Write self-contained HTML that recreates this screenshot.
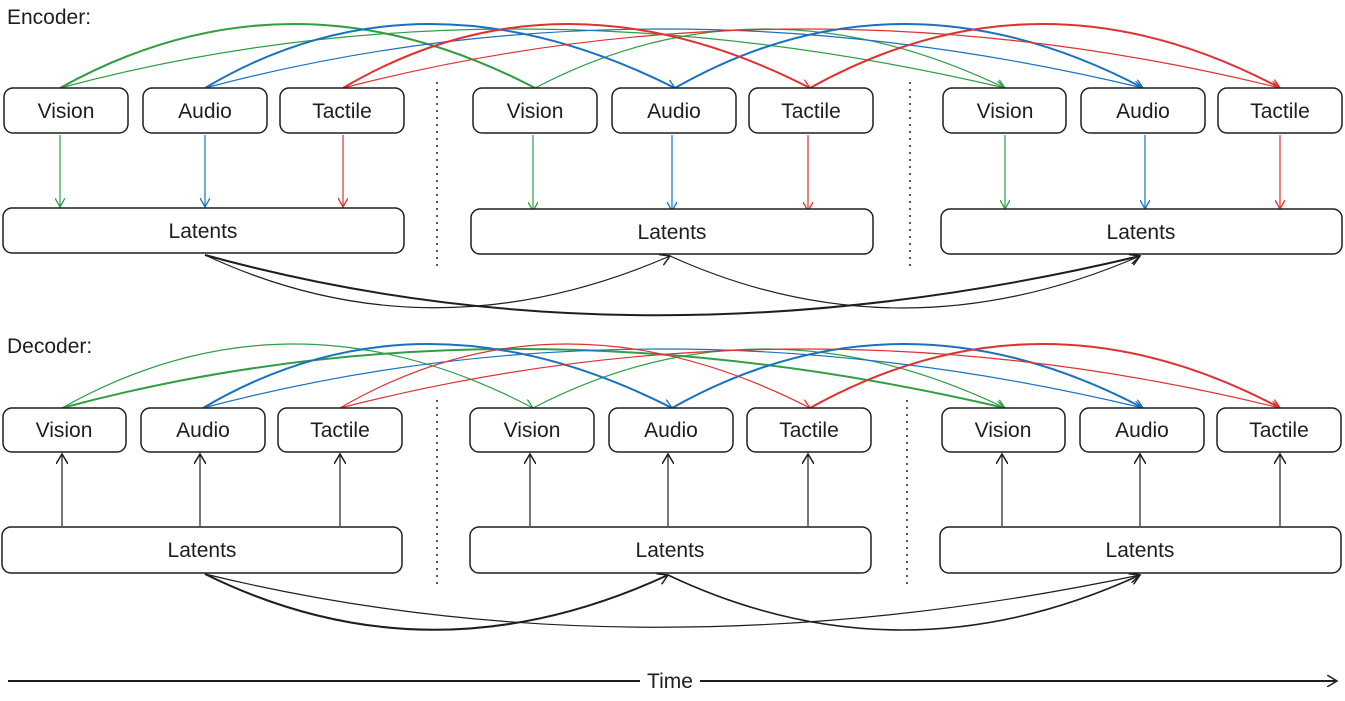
<!DOCTYPE html>
<html><head><meta charset="utf-8"><style>
html,body{margin:0;padding:0;background:#fff;}
svg text{font-family:"Liberation Sans",sans-serif;font-size:21px;fill:#1e1e1e;}
</style></head><body>
<svg width="1345" height="696" viewBox="0 0 1345 696" xmlns="http://www.w3.org/2000/svg">
<defs>
<marker id="ag" markerWidth="10" markerHeight="10" refX="9" refY="5" orient="auto" markerUnits="userSpaceOnUse"><path d="M0,0 L9,5 L0,10" fill="none" stroke="#2f9e44" stroke-width="1.3"/></marker>
<marker id="ab" markerWidth="10" markerHeight="10" refX="9" refY="5" orient="auto" markerUnits="userSpaceOnUse"><path d="M0,0 L9,5 L0,10" fill="none" stroke="#1971c2" stroke-width="1.3"/></marker>
<marker id="ar" markerWidth="10" markerHeight="10" refX="9" refY="5" orient="auto" markerUnits="userSpaceOnUse"><path d="M0,0 L9,5 L0,10" fill="none" stroke="#e03131" stroke-width="1.3"/></marker>
<marker id="ak" markerWidth="12" markerHeight="12" refX="10" refY="6" orient="auto" markerUnits="userSpaceOnUse"><path d="M0,0 L10,6 L0,12" fill="none" stroke="#1e1e1e" stroke-width="1.5"/></marker>
</defs>
<text x="7" y="24">Encoder:</text>
<text x="7" y="353">Decoder:</text>
<g fill="none" stroke-width="1.2">
<path d="M60,88 Q290,-40 535,88" stroke="#2f9e44" stroke-width="2"/>
<path d="M60,88 Q500,-30 1005,88" stroke="#2f9e44" marker-end="url(#ag)"/>
<path d="M535,88 Q760,-30 1005,88" stroke="#2f9e44" marker-end="url(#ag)"/>
<path d="M205,88 Q420,-40 675,88" stroke="#1971c2" stroke-width="2" marker-end="url(#ab)"/>
<path d="M205,88 Q650,-30 1143,88" stroke="#1971c2" marker-end="url(#ab)"/>
<path d="M675,88 Q900,-40 1143,88" stroke="#1971c2" stroke-width="2" marker-end="url(#ab)"/>
<path d="M343,88 Q560,-40 810,88" stroke="#e03131" stroke-width="2" marker-end="url(#ar)"/>
<path d="M343,88 Q800,-30 1280,88" stroke="#e03131" marker-end="url(#ar)"/>
<path d="M810,88 Q1040,-40 1280,88" stroke="#e03131" stroke-width="2" marker-end="url(#ar)"/>
<path d="M62,408 Q290,280 533,408" stroke="#2f9e44" marker-end="url(#ag)"/>
<path d="M62,408 Q500,290 1005,408" stroke="#2f9e44" stroke-width="2" marker-end="url(#ag)"/>
<path d="M533,408 Q760,290 1005,408" stroke="#2f9e44" marker-end="url(#ag)"/>
<path d="M203,408 Q420,280 672,408" stroke="#1971c2" stroke-width="2" marker-end="url(#ab)"/>
<path d="M203,408 Q650,290 1143,408" stroke="#1971c2" marker-end="url(#ab)"/>
<path d="M672,408 Q900,280 1143,408" stroke="#1971c2" stroke-width="2" marker-end="url(#ab)"/>
<path d="M340,408 Q560,280 810,408" stroke="#e03131" marker-end="url(#ar)"/>
<path d="M340,408 Q800,290 1280,408" stroke="#e03131" marker-end="url(#ar)"/>
<path d="M810,408 Q1040,280 1280,408" stroke="#e03131" stroke-width="2" marker-end="url(#ar)"/>
<path d="M60,135 L60,207" stroke="#2f9e44" marker-end="url(#ag)"/>
<path d="M205,135 L205,207" stroke="#1971c2" marker-end="url(#ab)"/>
<path d="M343,135 L343,207" stroke="#e03131" marker-end="url(#ar)"/>
<path d="M533,135 L533,211" stroke="#2f9e44" marker-end="url(#ag)"/>
<path d="M672,135 L672,211" stroke="#1971c2" marker-end="url(#ab)"/>
<path d="M808,135 L808,211" stroke="#e03131" marker-end="url(#ar)"/>
<path d="M1005,135 L1005,209" stroke="#2f9e44" marker-end="url(#ag)"/>
<path d="M1145,135 L1145,209" stroke="#1971c2" marker-end="url(#ab)"/>
<path d="M1280,135 L1280,209" stroke="#e03131" marker-end="url(#ar)"/>
<g stroke="#1e1e1e">
<path d="M62,526 L62,454" marker-end="url(#ak)"/>
<path d="M200,526 L200,454" marker-end="url(#ak)"/>
<path d="M340,526 L340,454" marker-end="url(#ak)"/>
<path d="M530,526 L530,454" marker-end="url(#ak)"/>
<path d="M668,526 L668,454" marker-end="url(#ak)"/>
<path d="M808,526 L808,454" marker-end="url(#ak)"/>
<path d="M1002,526 L1002,454" marker-end="url(#ak)"/>
<path d="M1140,526 L1140,454" marker-end="url(#ak)"/>
<path d="M1280,526 L1280,454" marker-end="url(#ak)"/>
<path d="M205,255 Q430,360 670,256" stroke-width="1.2" marker-end="url(#ak)"/>
<path d="M205,255 Q640,375 1140,256" stroke-width="2" marker-end="url(#ak)"/>
<path d="M670,256 Q900,360 1140,256" stroke-width="1.2" marker-end="url(#ak)"/>
<path d="M205,574 Q430,685 668,575" stroke-width="2" marker-end="url(#ak)"/>
<path d="M205,574 Q640,680 1140,575" stroke-width="1.2" marker-end="url(#ak)"/>
<path d="M668,575 Q900,685 1140,575" stroke-width="1.6" marker-end="url(#ak)"/>
<path d="M437,82 L437,268 M910,82 L910,268 M437,400 L437,588 M907,400 L907,588" stroke-dasharray="2,5" stroke-width="1.5"/>
<path d="M8,681 L1337,681" stroke-width="2" marker-end="url(#ak)"/>
</g>
</g>
<g fill="#fff" stroke="#1e1e1e" stroke-width="1.5">
<rect x="4" y="88" width="124" height="45" rx="9"/><rect x="143" y="88" width="124" height="45" rx="9"/><rect x="280" y="88" width="124" height="45" rx="9"/>
<rect x="473" y="88" width="124" height="45" rx="9"/><rect x="612" y="88" width="124" height="45" rx="9"/><rect x="749" y="88" width="124" height="45" rx="9"/>
<rect x="943" y="88" width="123" height="45" rx="9"/><rect x="1081" y="88" width="124" height="45" rx="9"/><rect x="1218" y="88" width="124" height="45" rx="9"/>
<rect x="3" y="208" width="401" height="45" rx="9"/><rect x="471" y="209" width="402" height="45" rx="9"/><rect x="941" y="209" width="401" height="45" rx="9"/>
<rect x="3" y="408" width="123" height="44" rx="9"/><rect x="141" y="408" width="124" height="44" rx="9"/><rect x="278" y="408" width="124" height="44" rx="9"/>
<rect x="470" y="408" width="124" height="44" rx="9"/><rect x="609" y="408" width="124" height="44" rx="9"/><rect x="747" y="408" width="124" height="44" rx="9"/>
<rect x="942" y="408" width="123" height="44" rx="9"/><rect x="1080" y="408" width="124" height="44" rx="9"/><rect x="1217" y="408" width="124" height="44" rx="9"/>
<rect x="2" y="527" width="400" height="46" rx="9"/><rect x="470" y="527" width="401" height="46" rx="9"/><rect x="940" y="527" width="401" height="46" rx="9"/>
</g>
<g text-anchor="middle">
<text x="66" y="118">Vision</text><text x="205" y="118">Audio</text><text x="342" y="118">Tactile</text>
<text x="535" y="118">Vision</text><text x="674" y="118">Audio</text><text x="811" y="118">Tactile</text>
<text x="1005" y="118">Vision</text><text x="1143" y="118">Audio</text><text x="1280" y="118">Tactile</text>
<text x="203" y="238">Latents</text><text x="672" y="239">Latents</text><text x="1141" y="239">Latents</text>
<text x="64" y="437">Vision</text><text x="203" y="437">Audio</text><text x="340" y="437">Tactile</text>
<text x="532" y="437">Vision</text><text x="671" y="437">Audio</text><text x="809" y="437">Tactile</text>
<text x="1003" y="437">Vision</text><text x="1142" y="437">Audio</text><text x="1279" y="437">Tactile</text>
<text x="202" y="557">Latents</text><text x="670" y="557">Latents</text><text x="1140" y="557">Latents</text>
</g>
<rect x="640" y="670" width="60" height="22" fill="#fff"/>
<text x="670" y="688" text-anchor="middle">Time</text>
</svg>
</body></html>
